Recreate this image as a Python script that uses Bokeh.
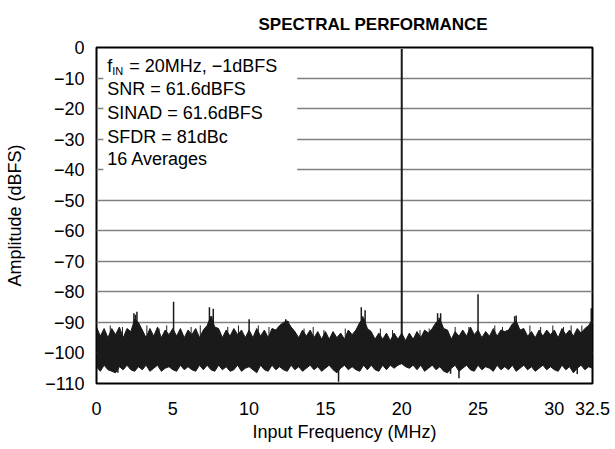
from bokeh.plotting import figure
from bokeh.models import FixedTicker, ColumnDataSource, Label, Range1d
from bokeh.embed import file_html
from bokeh.resources import INLINE

FONT = "Liberation Sans"

# ---- data ----
title_text = "SPECTRAL PERFORMANCE"
x_ticks = [0, 5, 10, 15, 20, 25, 30, 32.5]
y_ticks = [0, -10, -20, -30, -40, -50, -60, -70, -80, -90, -100, -110]

noise_freq = [round(i * 0.25, 2) for i in range(131)]
noise_top = [
    -91.5, -94.5, -92.0, -95.0, -92.0, -94.0, -91.5, -95.0,
    -92.0, -93.0, -89.0, -90.0, -92.5, -95.0, -92.0, -94.5,
    -91.5, -95.0, -92.5, -94.0, -92.0, -94.5, -92.0, -95.0,
    -92.5, -94.0, -92.0, -95.0, -92.5, -91.0, -88.0, -91.5,
    -92.0, -95.0, -92.5, -94.5, -92.0, -94.0, -92.5, -95.0,
    -92.5, -95.0, -92.0, -94.5, -92.5, -95.0, -92.0, -92.5,
    -91.0, -90.0, -89.5, -91.5, -93.0, -95.0, -92.5, -94.5,
    -92.5, -95.0, -93.0, -95.5, -93.0, -95.5, -93.0, -95.0,
    -93.5, -95.5, -92.5, -94.0, -92.5, -90.0, -88.5, -92.0,
    -93.0, -95.5, -93.5, -95.5, -93.5, -96.0, -93.5, -95.5,
    -93.5, -96.0, -93.5, -95.5, -93.0, -95.0, -92.5, -93.5,
    -92.0, -90.0, -89.0, -92.0, -92.5, -95.5, -93.0, -94.5,
    -92.5, -94.5, -91.5, -94.0, -92.5, -95.0, -93.0, -94.5,
    -92.0, -94.5, -92.5, -93.0, -92.5, -90.5, -89.5, -92.5,
    -92.0, -94.5, -93.0, -95.0, -92.5, -94.5, -92.5, -94.0,
    -92.5, -95.0, -92.0, -94.0, -92.5, -94.5, -92.0, -93.5,
    -92.0, -91.0, -89.0,
]
noise_bottom = [
    -104.5, -106.0, -104.0, -105.5, -106.0, -106.5, -104.5, -105.5,
    -104.0, -105.5, -106.0, -104.5, -105.5, -104.0, -106.0, -105.0,
    -104.0, -106.0, -105.0, -104.5, -105.5, -106.0, -104.0, -105.5,
    -104.5, -105.5, -106.0, -104.0, -105.5, -104.0, -105.5, -106.0,
    -104.0, -105.5, -104.5, -106.0, -105.5, -104.0, -106.0, -105.0,
    -104.5, -105.5, -106.5, -104.0, -105.5, -106.0, -104.0, -105.5,
    -104.5, -105.5, -106.0, -104.0, -105.5, -104.5, -106.0, -105.0,
    -104.0, -105.5, -104.5, -106.0, -105.0, -104.0, -105.5, -106.5,
    -105.0, -104.0, -105.5, -104.5, -105.5, -106.0, -104.0, -105.5,
    -104.0, -105.5, -106.0, -104.0, -105.5, -104.0, -105.0, -104.0,
    -103.5, -104.5, -105.0, -104.0, -105.5, -104.0, -106.0, -105.0,
    -104.0, -105.5, -104.5, -106.0, -106.5, -105.0, -104.0, -106.0,
    -105.0, -104.0, -105.5, -106.0, -104.0, -105.5, -104.5, -105.0,
    -106.0, -104.0, -105.5, -104.5, -105.5, -104.0, -106.0, -105.0,
    -104.0, -105.5, -104.5, -106.0, -105.0, -104.0, -105.5, -104.5,
    -105.5, -106.0, -104.0, -105.5, -104.5, -106.5, -105.0, -104.0,
    -105.5, -104.5, -105.0,
]

# harmonics / spurs above the floor
spur_freq = [2.45, 2.55, 2.65, 5.05, 7.4, 7.55, 7.65, 10.0, 12.4, 12.55,
             17.35, 17.45, 17.6, 22.35, 22.45, 22.55, 25.0, 27.4, 27.5, 32.42]
spur_top = [-87.0, -87.5, -86.5, -83.2, -85.0, -88.0, -85.5, -89.0, -89.0, -89.5,
            -85.0, -88.0, -86.0, -87.0, -88.5, -87.0, -80.8, -88.0, -87.7, -85.4]

# thin noise spikes poking above the floor
tick_freq = [0.9, 1.7, 3.3, 4.1, 4.6, 6.2, 6.8, 8.6, 9.3, 10.6, 11.3, 13.6, 14.2,
             14.9, 16.3, 18.6, 19.4, 21.2, 21.8, 23.5, 24.4, 26.1, 26.6, 28.4,
             29.1, 29.9, 30.6, 31.1, 31.8]
tick_top = [-91.0, -91.5, -91.0, -92.0, -91.0, -91.5, -91.0, -91.5, -91.0, -91.0,
            -91.5, -92.0, -91.5, -92.5, -92.0, -92.0, -92.5, -92.5, -92.0, -91.5,
            -91.5, -91.0, -91.5, -91.0, -91.5, -91.0, -91.5, -91.0, -91.0]

dip_freq = [1.4, 15.86, 23.2, 23.75, 31.5]
dip_bottom = [-106.5, -109.4, -106.8, -108.3, -106.9]

tone_freq = [20.0]
tone_top = [-0.5]

info_lines = ["SNR = 61.6dBFS", "SINAD = 61.6dBFS", "SFDR = 81dBc", "16 Averages"]
info_y = [-13.7, -21.6, -29.2, -36.6]
first_line_y = -6.0

INK = "#1a1a1a"
FS = "18px"

# ---- figure ----
p = figure(width=615, height=449, output_backend="svg", toolbar_location=None,
           x_range=Range1d(0, 32.5), y_range=Range1d(-110, 0),
           min_border_left=96, min_border_right=23, min_border_top=47, min_border_bottom=66,
           title=title_text)
p.background_fill_color = "white"
p.border_fill_color = "white"
p.outline_line_color = "black"
p.outline_line_width = 2

p.title.align = "left"
p.title.offset = 162
p.title.vertical_align = "top"
p.title.text_font = FONT
p.title.text_font_size = "17px"
p.title.text_font_style = "bold"
p.title.text_color = "black"
p.title.standoff = 24

p.xgrid.grid_line_color = None
p.ygrid.grid_line_color = "#808080"
p.ygrid.grid_line_width = 1.5

for ax in (p.xaxis[0], p.yaxis[0]):
    ax.axis_line_color = None
    ax.major_tick_line_color = None
    ax.minor_tick_line_color = None
    ax.major_tick_in = 0
    ax.major_tick_out = 0
    ax.minor_tick_in = 0
    ax.minor_tick_out = 0
    ax.major_label_text_font = FONT
    ax.major_label_text_font_size = FS
    ax.major_label_text_color = "black"
    ax.axis_label_text_font = FONT
    ax.axis_label_text_font_size = FS
    ax.axis_label_text_font_style = "normal"
    ax.axis_label_text_color = "black"

p.xaxis.ticker = FixedTicker(ticks=x_ticks)
p.xaxis.major_label_overrides = {t: str(t) for t in x_ticks}
p.xaxis.major_label_standoff = 18
p.xaxis.axis_label = "Input Frequency (MHz)"
p.xaxis.axis_label_standoff = 4

p.yaxis.ticker = FixedTicker(ticks=y_ticks)
p.yaxis.major_label_overrides = {t: str(t).replace("-", "\u2212") for t in y_ticks}
p.yaxis.major_label_standoff = 12
p.yaxis.axis_label = "Amplitude (dBFS)"
p.yaxis.axis_label_standoff = 16

# text box background (covers grid)
p.quad(left=[0.45], right=[13.15], top=[-0.6], bottom=[-45.0], fill_color="white", line_color=None)

# noise floor
src = ColumnDataSource(dict(f=noise_freq, top=noise_top, bot=noise_bottom))
p.varea(x="f", y1="bot", y2="top", source=src, fill_color=INK)
p.line(x="f", y="top", source=src, line_color=INK, line_width=1)
p.line(x="f", y="bot", source=src, line_color=INK, line_width=1)

p.segment(x0=tick_freq, y0=[-95.0] * len(tick_freq), x1=tick_freq, y1=tick_top,
          line_color=INK, line_width=1)
p.segment(x0=spur_freq, y0=[-96.0] * len(spur_freq), x1=spur_freq, y1=spur_top,
          line_color=INK, line_width=1.5)
p.segment(x0=dip_freq, y0=[-103.0] * len(dip_freq), x1=dip_freq, y1=dip_bottom,
          line_color=INK, line_width=1.5)
# fundamental
p.segment(x0=tone_freq, y0=[-100.0], x1=tone_freq, y1=tone_top, line_color=INK, line_width=2)

# annotation text
tx = 0.7
lab = dict(text_font=FONT, text_font_size=FS, text_baseline="middle",
           text_align="left", text_color="black")
p.add_layout(Label(x=tx, y=first_line_y, text="f", **lab))
p.add_layout(Label(x=tx, y=first_line_y, x_offset=5, y_offset=-5, text="IN", text_font=FONT,
                   text_font_size="11px", text_baseline="middle", text_align="left",
                   text_color="black"))
p.add_layout(Label(x=tx, y=first_line_y, x_offset=17, text="\u00a0= 20MHz, \u22121dBFS", **lab))
for t, yy in zip(info_lines, info_y):
    p.add_layout(Label(x=tx, y=yy, text=t, **lab))

open("out.html", "w").write(file_html(p, INLINE))
